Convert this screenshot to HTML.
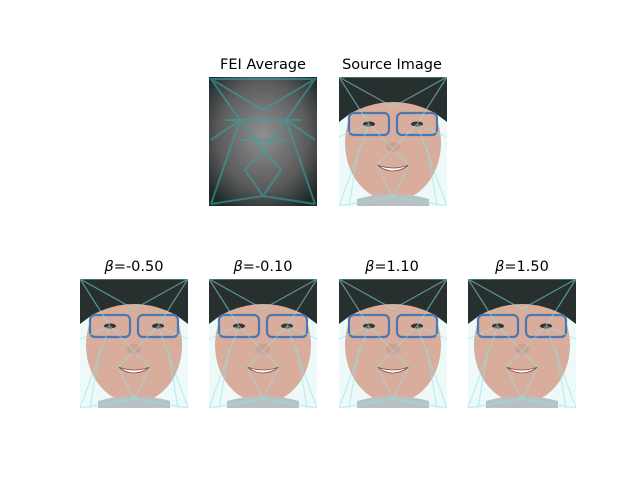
<!DOCTYPE html>
<html><head><meta charset="utf-8"><style>
body{margin:0;width:640px;height:480px;background:#fff;overflow:hidden;font-family:"DejaVu Sans","Liberation Sans",sans-serif}
</style></head><body>
<svg width="640" height="480" xmlns="http://www.w3.org/2000/svg">
<defs>
<radialGradient id="fg" cx="0.5" cy="0.45" r="0.65">
<stop offset="0" stop-color="#909090"/><stop offset="0.65" stop-color="#5a5a5a"/><stop offset="1" stop-color="#1e2a2a"/>
</radialGradient>
<symbol id="face" viewBox="0 0 108 129">
<rect width="108" height="129" fill="#eefafa"/>
<ellipse cx="54" cy="66" rx="48" ry="58" fill="#d8ad9c"/>
<path d="M0 0H108V45L96 36Q54 14 12 36L0 45Z" fill="#28302f"/>
<path d="M18 122Q54 112 90 122V129H18Z" fill="#b8c0c2"/>
<rect x="10" y="36" width="40" height="22" rx="5" fill="none" stroke="#4a78b0" stroke-width="2.2"/>
<rect x="58" y="36" width="40" height="22" rx="5" fill="none" stroke="#4a78b0" stroke-width="2.2"/>
<ellipse cx="30" cy="47" rx="6" ry="2.5" fill="#3a3030"/>
<ellipse cx="78" cy="47" rx="6" ry="2.5" fill="#3a3030"/>
<ellipse cx="54" cy="70" rx="7" ry="5" fill="#cf9e8e"/>
<path d="M38 88Q54 100 70 88Q54 94 38 88Z" fill="#fff" stroke="#8a4a4a" stroke-width="0.8"/>
<g stroke="#8ee6e6" stroke-width="1.2" opacity="0.55" fill="none">
<path d="M0 0L30 47L0 129M108 0L78 47L108 129M0 129L54 120L108 129M30 47L54 72L78 47M54 72L38 88L54 120L70 88L54 72M0 60L30 47M108 60L78 47M0 0L108 0L54 30ZM10 129L20 70M98 129L88 70"/>
</g>
</symbol>
</defs>
<g>
<text x="263" y="69" text-anchor="middle" font-size="14.5">FEI Average</text>
<rect x="209" y="77" width="108" height="129" fill="url(#fg)"/>
<g stroke="#3aa0a0" stroke-width="2" opacity="0.6" fill="none">
<path d="M211 79L240 120L211 204M315 79L286 120L315 204M211 204L263 196L315 204M240 120L263 150L286 120M263 150L245 170L263 196L281 170L263 150M211 140L240 120M315 140L286 120M211 79H315L263 110ZM225 120H301M240 140H286"/>
</g>
</g>
<g>
<text x="392" y="69" text-anchor="middle" font-size="14.5">Source Image</text>
<use href="#face" x="339" y="77" width="108" height="129"/>
</g>
<g>
<text x="134" y="271" text-anchor="middle" font-size="14.5"><tspan font-style="italic">β</tspan>=-0.50</text>
<use href="#face" x="80" y="279" width="108" height="129"/>
</g>
<g>
<text x="263" y="271" text-anchor="middle" font-size="14.5"><tspan font-style="italic">β</tspan>=-0.10</text>
<use href="#face" x="209" y="279" width="108" height="129"/>
</g>
<g>
<text x="392" y="271" text-anchor="middle" font-size="14.5"><tspan font-style="italic">β</tspan>=1.10</text>
<use href="#face" x="339" y="279" width="108" height="129"/>
</g>
<g>
<text x="522" y="271" text-anchor="middle" font-size="14.5"><tspan font-style="italic">β</tspan>=1.50</text>
<use href="#face" x="468" y="279" width="108" height="129"/>
</g>
</svg>
</body></html>
